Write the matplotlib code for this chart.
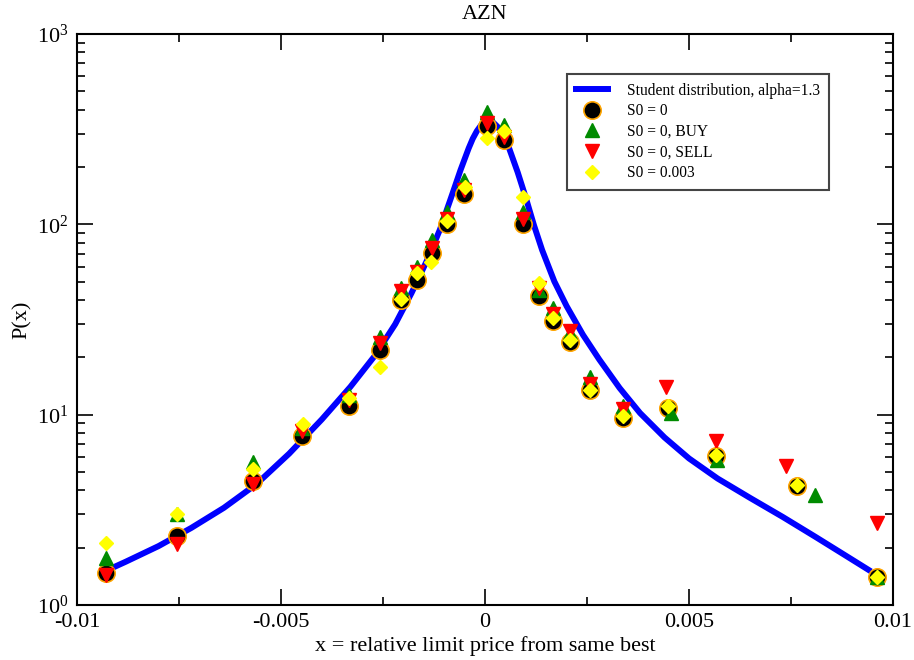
import matplotlib
matplotlib.use('Agg')
import matplotlib.pyplot as plt
from matplotlib.ticker import FixedLocator, FixedFormatter, MultipleLocator, LogLocator, NullFormatter

plt.rcParams['font.family'] = 'Liberation Serif'
plt.rcParams['mathtext.fontset'] = 'custom'
plt.rcParams['mathtext.rm'] = 'Liberation Serif'
plt.rcParams['mathtext.default'] = 'regular'

# fitted Student curve
x_fit = [-0.0093, -0.0088, -0.0080, -0.0072, -0.0064, -0.0056, -0.0048, -0.0040,
         -0.0033, -0.0027, -0.0022, -0.0018, -0.0014, -0.0011, -0.0008, -0.0006,
         -0.0004, -0.0003, -0.0002, -0.0001, 0.0, 0.0001, 0.0002, 0.0003,
         0.0004, 0.0005, 0.0006, 0.0008, 0.0010, 0.0012, 0.0014, 0.0017,
         0.0020, 0.0024, 0.0028, 0.0033, 0.0038, 0.0044, 0.0050, 0.0057,
         0.0065, 0.0073, 0.0081, 0.0088, 0.0094]
y_fit = [1.51, 1.69, 2.04, 2.54, 3.24, 4.32, 6.24, 9.44,
         14.0, 20.4, 29.9, 43.6, 66.1, 94.4, 144.5, 192.8,
         251, 282, 309, 331, 345, 348, 343, 327,
         305, 279, 248, 188, 138, 98.9, 73.3, 50.1,
         37.2, 26.3, 19.5, 13.8, 10.2, 7.59, 5.89, 4.62,
         3.65, 2.90, 2.28, 1.84, 1.53]

x_s0 = [-0.00930, -0.00756, -0.00569, -0.00449, -0.00333, -0.00257, -0.00206, -0.00166,
        -0.00131, -0.00094, -0.00052, 0.00004, 0.00047, 0.00092, 0.00132, 0.00167,
        0.00208, 0.00258, 0.00338, 0.00449, 0.00566, 0.00764, 0.00962]
y_s0 = [1.48, 2.30, 4.47, 7.76, 11.1, 21.9, 40.1, 51.0,
        70.4, 101, 145, 328, 277, 101, 42.2, 31.2,
        24.2, 13.4, 9.61, 10.9, 6.10, 4.21, 1.40]

x_buy = [-0.00930, -0.00756, -0.00569, -0.00449, -0.00333, -0.00257, -0.00206, -0.00166,
         -0.00131, -0.00094, -0.00052, 0.00004, 0.00047, 0.00092, 0.00132, 0.00167,
         0.00208, 0.00258, 0.00338, 0.00455, 0.00568, 0.00808, 0.00962]
y_buy = [1.77, 3.0, 5.62, 8.55, 12.7, 25.7, 46.2, 59.9,
         82.7, 116, 172, 389, 332, 116, 45.2, 36.3,
         26.8, 15.8, 11.1, 10.2, 5.8, 3.80, 1.40]

x_sell = [-0.00930, -0.00756, -0.00569, -0.00449, -0.00333, -0.00257, -0.00206, -0.00166,
          -0.00131, -0.00094, -0.00052, 0.00004, 0.00047, 0.00092, 0.00132, 0.00167,
          0.00208, 0.00258, 0.00338, 0.00444, 0.00566, 0.00738, 0.00961]
y_sell = [1.43, 2.08, 4.30, 8.17, 12.0, 23.9, 44.9, 56.4,
          74.8, 107, 151, 339, 288, 107, 46.2, 33.9,
          27.6, 14.5, 10.7, 14.0, 7.31, 5.36, 2.70]

x_003 = [-0.00930, -0.00756, -0.00569, -0.00447, -0.00333, -0.00257, -0.00206, -0.00166,
         -0.00133, -0.00094, -0.00050, 0.00004, 0.00047, 0.00092, 0.00132, 0.00167,
         0.00208, 0.00258, 0.00338, 0.00449, 0.00566, 0.00764, 0.00962]
y_003 = [2.11, 3.02, 5.19, 8.94, 12.2, 17.7, 40.6, 55.3,
         63.7, 104, 157, 283, 310, 140, 49.1, 32.1,
         24.7, 13.5, 9.88, 11.1, 6.17, 4.26, 1.41]

x_ticks = [-0.01, -0.005, 0, 0.005, 0.01]
x_tick_labels = ['-0.01', '-0.005', '0', '0.005', '0.01']
y_ticks = [1, 10, 100, 1000]
y_tick_labels = ['$10^{0}$', '$10^{1}$', '$10^{2}$', '$10^{3}$']

fig = plt.figure(figsize=(9.14, 6.6), dpi=100)
ax = fig.add_axes([77 / 914, 1 - 605 / 660, 816 / 914, 571 / 660])

ax.plot(x_fit, y_fit, color='#0000ff', lw=4.3, zorder=2,
        label='Student distribution, alpha=1.3')
ax.plot(x_s0, y_s0, 'o', ms=12.5, mfc='black', mec='#ffa500', mew=1.2, zorder=3,
        label='S0 = 0')
ax.plot(x_buy, y_buy, '^', ms=10, color='#008b00', zorder=4, label='S0 = 0, BUY')
ax.plot(x_sell, y_sell, 'v', ms=10, color='#ff0000', zorder=5, label='S0 = 0, SELL')
ax.plot(x_003, y_003, 'D', ms=7, color='#ffff00', zorder=6, label='S0 = 0.003')

ax.set_yscale('log')
ax.set_xlim(-0.01, 0.01)
ax.set_ylim(1, 1000)

ax.xaxis.set_major_locator(FixedLocator(x_ticks))
ax.xaxis.set_major_formatter(FixedFormatter(x_tick_labels))
ax.xaxis.set_minor_locator(MultipleLocator(0.0025))
ax.yaxis.set_major_locator(FixedLocator(y_ticks))
ax.yaxis.set_major_formatter(FixedFormatter(y_tick_labels))
ax.yaxis.set_minor_locator(LogLocator(base=10, subs=range(2, 10)))
ax.yaxis.set_minor_formatter(NullFormatter())

ax.tick_params(which='both', direction='in', top=True, right=True, width=1.2,
               labelsize=16, pad=6, color='black')
ax.tick_params(which='major', length=11.5)
ax.tick_params(which='minor', length=6)
for s in ax.spines.values():
    s.set_linewidth(1.5)

ax.set_title('AZN', fontsize=16, pad=11)
ax.set_xlabel('x = relative limit price from same best', fontsize=16, labelpad=3)
ax.set_ylabel('P(x)', fontsize=16, labelpad=4)

leg = ax.legend(loc='upper left', bbox_to_anchor=(0.6005, 0.930), fontsize=11.2,
                frameon=True, fancybox=False, edgecolor='#444444', framealpha=1,
                numpoints=1, handlelength=2.1, handletextpad=1.2, borderpad=0.55,
                labelspacing=0.3, borderaxespad=0)
leg.get_frame().set_linewidth(1.5)

fig.savefig('out.png', dpi=100)
